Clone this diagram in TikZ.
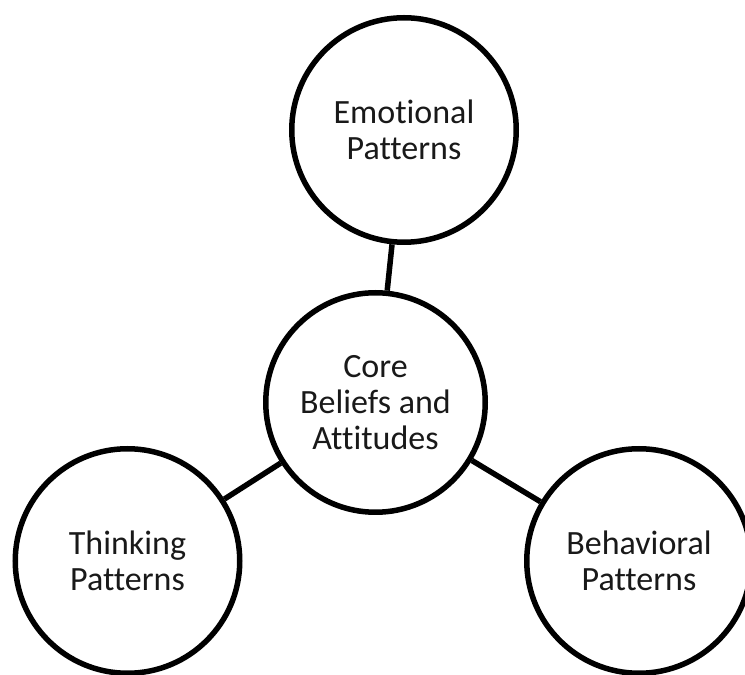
\documentclass[tikz,border=0pt]{standalone}
\usepackage{fontspec}
\setmainfont{Carlito}[Ligatures=NoCommon]
\begin{document}
\begin{tikzpicture}[x=1pt,y=1pt,
  bubble/.style={circle,draw=black,line width=5.5pt,fill=white,align=center,inner sep=0pt,
    font=\fontsize{34}{36}\selectfont,text=black!90},
  link/.style={draw=black,line width=5.5pt}]
\useasboundingbox (0,0) rectangle (745,675);
\node[bubble,minimum size=224.5pt] (E) at (404,545) {Emotional\\Patterns};
\node[bubble,minimum size=219.5pt] (C) at (375.5,272.5) {Core\\Beliefs and\\Attitudes};
\node[bubble,minimum size=224.5pt] (T) at (127.5,114) {Thinking\\Patterns};
\node[bubble,minimum size=224.5pt] (B) at (639,114) {Behavioral\\Patterns};
\draw[link] (E) -- (C);
\draw[link] (C) -- (T);
\draw[link] (C) -- (B);
\end{tikzpicture}
\end{document}
